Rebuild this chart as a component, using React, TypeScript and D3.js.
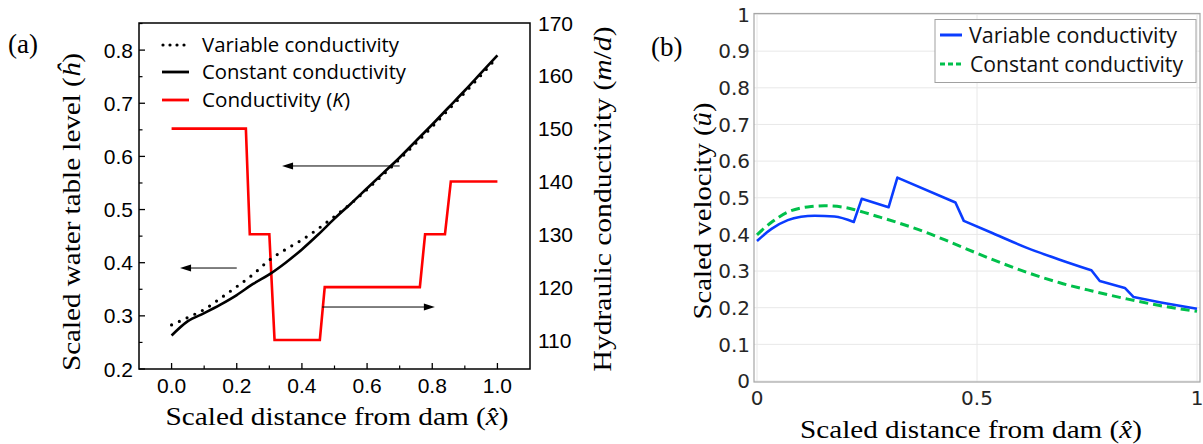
import * as d3 from "d3";

// ---- panel (a): water table level + conductivity ----
const distA = [0, 0.05, 0.1, 0.15, 0.2, 0.25, 0.3, 0.35, 0.4, 0.45, 0.5, 0.55, 0.6, 0.65, 0.7, 0.75, 0.8, 0.85, 0.9, 0.95, 1.0];
const hConstant = [0.263, 0.29, 0.305, 0.321, 0.339, 0.36, 0.378, 0.4, 0.425, 0.453, 0.483, 0.511, 0.54, 0.569, 0.598, 0.629, 0.66, 0.692, 0.724, 0.757, 0.79];
const hVariable = [0.283, 0.297, 0.312, 0.333, 0.355, 0.378, 0.405, 0.425, 0.443, 0.464, 0.487, 0.511, 0.538, 0.566, 0.595, 0.625, 0.656, 0.688, 0.72, 0.753, 0.787];
const condX = [0, 0.228, 0.24, 0.3, 0.316, 0.455, 0.47, 0.762, 0.778, 0.839, 0.857, 1.0];
const condK = [150, 150, 130, 130, 110, 110, 120, 120, 130, 130, 140, 140];
const hTicks = [0.2, 0.3, 0.4, 0.5, 0.6, 0.7, 0.8];
const hMinor = [0.25, 0.35, 0.45, 0.55, 0.65, 0.75, 0.85];
const kTicks = [110, 120, 130, 140, 150, 160, 170];
const distTicksA = [0, 0.2, 0.4, 0.6, 0.8, 1.0];
const distMinorA = [0.1, 0.3, 0.5, 0.7, 0.9];
// arrows: [from x, to x, at h]
const arrowsA = [
  [0.7, 0.339, 0.582],
  [0.2, 0.026, 0.39],
  [0.462, 0.808, 0.3166],
];

// ---- panel (b): velocity ----
const velXVar = [0, 0.033, 0.07, 0.1, 0.131, 0.176, 0.22, 0.238, 0.299, 0.319, 0.451, 0.47, 0.536, 0.612, 0.688, 0.76, 0.779, 0.836, 0.856, 0.915, 1.0];
const velVar = [0.382, 0.415, 0.439, 0.448, 0.451, 0.449, 0.434, 0.497, 0.474, 0.555, 0.487, 0.437, 0.403, 0.364, 0.331, 0.302, 0.273, 0.254, 0.229, 0.215, 0.197];
// indices where the variable-conductivity curve has a corner
const velKinks = [6, 7, 8, 9, 10, 11, 15, 16, 17, 18];
const velXConst = [0, 0.033, 0.07, 0.1, 0.123, 0.153, 0.198, 0.229, 0.274, 0.32, 0.381, 0.441, 0.495, 0.536, 0.612, 0.688, 0.764, 0.84, 0.915, 1.0];
const velConst = [0.399, 0.433, 0.461, 0.472, 0.476, 0.478, 0.474, 0.465, 0.449, 0.432, 0.407, 0.378, 0.351, 0.331, 0.297, 0.268, 0.245, 0.224, 0.206, 0.19];
const velTicks = [0, 0.1, 0.2, 0.3, 0.4, 0.5, 0.6, 0.7, 0.8, 0.9, 1];
const distTicksB = [0, 0.5, 1];

const sans = "'Liberation Sans', Arial, sans-serif";
const serif = "'Liberation Serif', 'DejaVu Serif', serif";
const legendFont = "'Open Sans', 'Noto Sans', sans-serif";
const bFont = "'DejaVu Sans', sans-serif";
const titleSize = 25;

const PanelA = () => {
  const x = d3.scaleLinear().domain([-0.1, 1.1]).range([139, 530]);
  const y = d3.scaleLinear().domain([0.2, 0.851]).range([369, 23]);
  const yK = d3.scaleLinear().domain([104.5, 170]).range([369, 23]);
  const [x0, x1] = x.range();
  const [y0, y1] = y.range();

  const hLine = d3
    .line<number>()
    .x((d, i) => x(distA[i]))
    .y((d) => y(d))
    .curve(d3.curveMonotoneX);
  const kLine = d3
    .line<number>()
    .x((d, i) => x(condX[i]))
    .y((d) => yK(d));

  return (
    <g>
      <text x={8} y={53} fontFamily={serif} fontSize={27}>(a)</text>
      {/* red conductivity */}
      <path d={kLine(condK) || ""} fill="none" stroke="#ff0000" strokeWidth={2.6} />
      <path d={hLine(hConstant) || ""} fill="none" stroke="#000" strokeWidth={2.6} />
      <path
        d={hLine(hVariable) || ""}
        fill="none"
        stroke="#000"
        strokeWidth={3.2}
        strokeLinecap="round"
        strokeDasharray="0 8.5"
      />
      {arrowsA.map((a, i) => {
        const xa = x(a[0]);
        const xb = x(a[1]);
        const yy = y(a[2]);
        const dir = xb > xa ? 1 : -1;
        return (
          <g key={i}>
            <line x1={xa} x2={xb - dir * 8} y1={yy} y2={yy} stroke="#000" strokeWidth={1} />
            <path d={`M${xb},${yy}L${xb - dir * 11},${yy - 3.5}L${xb - dir * 11},${yy + 3.5}Z`} fill="#000" />
          </g>
        );
      })}
      {/* frame */}
      <rect x={x0} y={y1} width={x1 - x0} height={y0 - y1} fill="none" stroke="#000" strokeWidth={1.5} />
      {hTicks.map((t) => (
        <g key={t}>
          <line x1={x0} x2={x0 + 6} y1={y(t)} y2={y(t)} stroke="#000" strokeWidth={1.3} />
          <text x={133} y={y(t)} dy="0.36em" textAnchor="end" fontFamily={sans} fontSize={21}>
            {t.toFixed(1)}
          </text>
        </g>
      ))}
      {hMinor.map((t) => (
        <line key={t} x1={x0} x2={x0 + 3.5} y1={y(t)} y2={y(t)} stroke="#000" strokeWidth={1.2} />
      ))}
      {kTicks.map((t) => (
        <text key={t} x={538} y={yK(t)} dy="0.36em" fontFamily={sans} fontSize={21}>
          {t}
        </text>
      ))}
      {distTicksA.map((t) => (
        <g key={t}>
          <line x1={x(t)} x2={x(t)} y1={y0} y2={y0 - 6} stroke="#000" strokeWidth={1.3} />
          <text x={x(t)} y={393} textAnchor="middle" fontFamily={sans} fontSize={21}>
            {t.toFixed(1)}
          </text>
        </g>
      ))}
      {distMinorA.map((t) => (
        <line key={t} x1={x(t)} x2={x(t)} y1={y0} y2={y0 - 3.5} stroke="#000" strokeWidth={1.2} />
      ))}
      {/* legend */}
      <line x1={163} x2={188} y1={45} y2={45} stroke="#000" strokeWidth={3.2} strokeLinecap="round" strokeDasharray="0 7" />
      <line x1={162} x2={189} y1={72} y2={72} stroke="#000" strokeWidth={2.8} />
      <line x1={162} x2={189} y1={100} y2={100} stroke="#ff0000" strokeWidth={2.8} />
      <text x={202} y={51.5} fontFamily={legendFont} fontSize={19.5} textLength={197} lengthAdjust="spacingAndGlyphs">
        Variable conductivity
      </text>
      <text x={202} y={79} fontFamily={legendFont} fontSize={19.5} textLength={204} lengthAdjust="spacingAndGlyphs">
        Constant conductivity
      </text>
      <text x={202} y={106.5} fontFamily={legendFont} fontSize={19.5} textLength={148} lengthAdjust="spacingAndGlyphs">
        Conductivity (<tspan fontStyle="italic">K</tspan>)
      </text>
      {/* axis titles */}
      <text
        transform="translate(80,212) rotate(-90)"
        textAnchor="middle"
        fontFamily={serif}
        fontSize={titleSize}
        textLength={318}
        lengthAdjust="spacingAndGlyphs"
      >
        Scaled water table level (<tspan fontStyle="italic">ĥ</tspan>)
      </text>
      <text
        transform="translate(611,199) rotate(-90)"
        textAnchor="middle"
        fontFamily={serif}
        fontSize={titleSize}
        textLength={345}
        lengthAdjust="spacingAndGlyphs"
      >
        Hydraulic conductivity (<tspan fontStyle="italic">m</tspan>/<tspan fontStyle="italic">d</tspan>)
      </text>
      <text
        x={337}
        y={425}
        textAnchor="middle"
        fontFamily={serif}
        fontSize={titleSize}
        textLength={343}
        lengthAdjust="spacingAndGlyphs"
      >
        Scaled distance from dam (<tspan fontStyle="italic">x̂</tspan>)
      </text>
    </g>
  );
};

const PanelB = () => {
  const x = d3.scaleLinear().domain([0, 1]).range([757, 1197]);
  const y = d3.scaleLinear().domain([0, 1]).range([381, 14.5]);

  const smooth = d3
    .line<[number, number]>()
    .x((d) => x(d[0]))
    .y((d) => y(d[1]))
    .curve(d3.curveMonotoneX);

  // variable curve: smooth between corners, sharp at the corners
  const varPts: [number, number][] = velVar.map((v, i) => [velXVar[i], v]);
  const cuts = [0, ...velKinks, varPts.length - 1];
  const varPath = cuts
    .slice(1)
    .map((c, k) => {
      const piece = smooth(varPts.slice(cuts[k], c + 1)) || "";
      return k === 0 ? piece : "L" + piece.slice(1);
    })
    .join("");
  const constPath = smooth(velConst.map((v, i) => [velXConst[i], v] as [number, number])) || "";

  return (
    <g>
      <text x={651} y={56} fontFamily={serif} fontSize={27}>(b)</text>
      {velTicks.map((t) => (
        <line key={t} x1={754} x2={1200} y1={y(t)} y2={y(t)} stroke="#e8e8e8" strokeWidth={1} />
      ))}
      {distTicksB.map((t) => (
        <line key={t} x1={x(t)} x2={x(t)} y1={13.5} y2={382} stroke="#e8e8e8" strokeWidth={1} />
      ))}
      <rect x={754} y={13.5} width={446} height={368.5} fill="none" stroke="#a6a6a6" strokeWidth={1.2} />
      <path d={constPath} fill="none" stroke="#00c04b" strokeWidth={3} strokeDasharray="9 5" />
      <path d={varPath} fill="none" stroke="#0a3cff" strokeWidth={2.6} strokeLinejoin="round" />
      {velTicks.map((t) => (
        <text key={t} x={750} y={y(t)} dy="0.36em" textAnchor="end" fontFamily={bFont} fontSize={20} fill="#262626">
          {d3.format("~g")(t)}
        </text>
      ))}
      {distTicksB.map((t) => (
        <text key={t} x={x(t)} y={405} textAnchor="middle" fontFamily={bFont} fontSize={20} fill="#262626">
          {d3.format("~g")(t)}
        </text>
      ))}
      {/* legend */}
      <rect x={935} y={19.5} width={261} height={63} fill="#fff" stroke="#a0a0a0" strokeWidth={1} />
      <line x1={940} x2={962} y1={35} y2={35} stroke="#0a3cff" strokeWidth={3} />
      <line x1={940} x2={962} y1={64} y2={64} stroke="#00c04b" strokeWidth={3} strokeDasharray="5 3" />
      <text x={969} y={43} fontFamily={legendFont} fontSize={21} fill="#111" textLength={208} lengthAdjust="spacingAndGlyphs">
        Variable conductivity
      </text>
      <text x={970} y={72} fontFamily={legendFont} fontSize={21} fill="#111" textLength={213} lengthAdjust="spacingAndGlyphs">
        Constant conductivity
      </text>
      {/* axis titles */}
      <text
        transform="translate(711,211) rotate(-90)"
        textAnchor="middle"
        fontFamily={serif}
        fontSize={titleSize}
        textLength={217}
        lengthAdjust="spacingAndGlyphs"
      >
        Scaled velocity (<tspan fontStyle="italic">û</tspan>)
      </text>
      <text
        x={971}
        y={438}
        textAnchor="middle"
        fontFamily={serif}
        fontSize={titleSize}
        textLength={342}
        lengthAdjust="spacingAndGlyphs"
      >
        Scaled distance from dam (<tspan fontStyle="italic">x̂</tspan>)
      </text>
    </g>
  );
};

export default function App() {
  return (
    <svg
      width={1203}
      height={444}
      style={{ position: "absolute", left: 0, top: 0, background: "#fff" }}
    >
      <PanelA />
      <PanelB />
    </svg>
  );
}
